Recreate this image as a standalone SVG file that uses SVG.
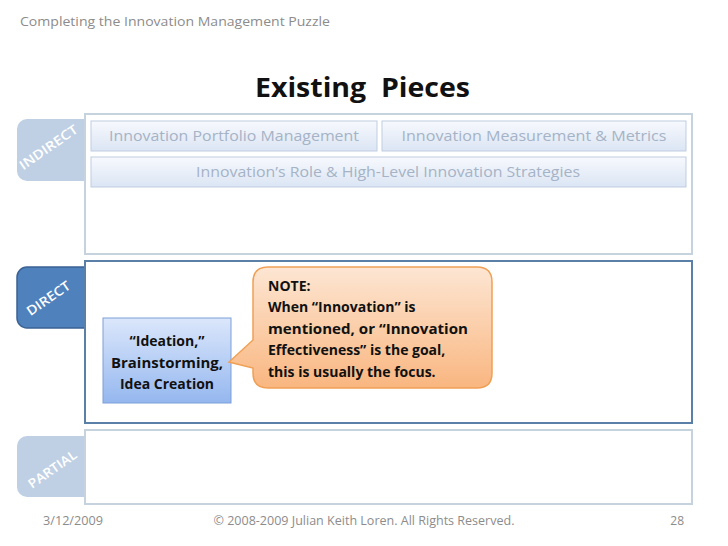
<svg xmlns="http://www.w3.org/2000/svg" width="728" height="546" viewBox="0 0 728 546">
<defs>
<linearGradient id="gBox" x1="0" y1="0" x2="0" y2="1"><stop offset="0" stop-color="#f7f9fd"/><stop offset="1" stop-color="#dbe5f4"/></linearGradient>
<linearGradient id="gIdea" x1="0" y1="0" x2="0" y2="1"><stop offset="0" stop-color="#dbe7fb"/><stop offset="1" stop-color="#95b7ef"/></linearGradient>
<linearGradient id="gNote" x1="0" y1="0" x2="0" y2="1"><stop offset="0" stop-color="#fde6d3"/><stop offset="1" stop-color="#f9b680"/></linearGradient>
<style>
.hdr{font-family:"Open Sans","Liberation Sans",sans-serif;font-size:13px;fill:#8c8c8c}
.title{font-family:"Open Sans","Liberation Sans",sans-serif;font-size:26px;font-weight:bold;fill:#111}
.tabL{fill:#bfd0e5}
.tabD{fill:#4f81bd;stroke:#3b6294;stroke-width:1.5}
.tabT{font-family:"Open Sans","Liberation Sans",sans-serif;font-size:13px;font-weight:600;fill:#fff;text-anchor:middle}
.panelL{fill:#fff;stroke:#c6d3de;stroke-width:2}
.panelD{fill:#fff;stroke:#5b80a7;stroke-width:2}
.box{fill:url(#gBox);stroke:#bfcde0;stroke-width:1}
.boxT{font-family:"Open Sans","Liberation Sans",sans-serif;font-size:14.5px;fill:#a5b3c6;text-anchor:middle}
.idea{fill:url(#gIdea);stroke:#7c9fd6;stroke-width:1}
.bold{font-family:"Open Sans","Liberation Sans",sans-serif;font-size:14px;font-weight:bold;fill:#111}
.note{fill:url(#gNote);stroke:#f0a055;stroke-width:1.5}
.foot{font-family:"Open Sans","Liberation Sans",sans-serif;font-size:12px;fill:#8c8c8c}
</style>
</defs>
<rect width="728" height="546" fill="#fff"/>
<text class="hdr" x="20" y="26" textLength="310" lengthAdjust="spacingAndGlyphs">Completing the Innovation Management Puzzle</text>
<text class="title" x="255" y="97" textLength="215" lengthAdjust="spacingAndGlyphs" xml:space="preserve">Existing  Pieces</text>

<g id="indirect">
<path class="tabL" d="M95,119 H27 A10,10 0 0 0 17,129 V171 A10,10 0 0 0 27,181 H95 Z"/>
<text class="tabT" transform="translate(51,151) rotate(-35)" textLength="68" lengthAdjust="spacingAndGlyphs">INDIRECT</text>
<rect class="panelL" x="85" y="114" width="607" height="140"/>
</g>
<g id="portfolio">
<rect class="box" x="91" y="121" width="286" height="30"/>
<text class="boxT" x="234" y="141" textLength="250" lengthAdjust="spacingAndGlyphs">Innovation Portfolio Management</text>
</g>
<g id="metrics">
<rect class="box" x="382" y="121" width="304" height="30"/>
<text class="boxT" x="534" y="141" textLength="265" lengthAdjust="spacingAndGlyphs">Innovation Measurement &amp; Metrics</text>
</g>
<g id="role">
<rect class="box" x="91" y="157" width="595" height="30"/>
<text class="boxT" x="388" y="177" textLength="384" lengthAdjust="spacingAndGlyphs">Innovation’s Role &amp; High-Level Innovation Strategies</text>
</g>

<g id="direct">
<path class="tabD" d="M95,267 H27 A10,10 0 0 0 17,277 V318 A10,10 0 0 0 27,328 H95 Z"/>
<text class="tabT" transform="translate(51,302) rotate(-35)" textLength="50" lengthAdjust="spacingAndGlyphs">DIRECT</text>
<rect class="panelD" x="85" y="261" width="607" height="162"/>
</g>
<g id="ideation">
<rect class="idea" x="103" y="318" width="128" height="85"/>
<text class="bold" text-anchor="middle" x="167" y="346">“Ideation,”</text>
<text class="bold" text-anchor="middle" x="167" y="368" textLength="112" lengthAdjust="spacingAndGlyphs">Brainstorming,</text>
<text class="bold" text-anchor="middle" x="167" y="389">Idea Creation</text>
</g>
<g id="note">
<path class="note" d="M268,267 H477 Q492,267 492,282 V373 Q492,388 477,388 H268 Q253,388 253,373 V368 L229,362 L253,340 V282 Q253,267 268,267 Z"/>
<text class="bold" x="268" y="291">NOTE:</text>
<text class="bold" x="268" y="312">When “Innovation” is</text>
<text class="bold" x="268" y="334" textLength="200" lengthAdjust="spacingAndGlyphs">mentioned, or “Innovation</text>
<text class="bold" x="268" y="355">Effectiveness” is the goal,</text>
<text class="bold" x="268" y="377">this is usually the focus.</text>
</g>

<g id="partial">
<path class="tabL" d="M95,436 H27 A10,10 0 0 0 17,446 V487 A10,10 0 0 0 27,497 H95 Z"/>
<text class="tabT" transform="translate(55,473) rotate(-35)" textLength="56" lengthAdjust="spacingAndGlyphs">PARTIAL</text>
<rect class="panelL" x="85" y="430" width="607" height="74"/>
</g>
<g id="connectors"/>

<text class="foot" x="43" y="525" textLength="60" lengthAdjust="spacingAndGlyphs">3/12/2009</text>
<text class="foot" x="364" y="525" text-anchor="middle" textLength="301" lengthAdjust="spacingAndGlyphs">© 2008-2009 Julian Keith Loren. All Rights Reserved.</text>
<text class="foot" x="684" y="525" text-anchor="end">28</text>
</svg>
